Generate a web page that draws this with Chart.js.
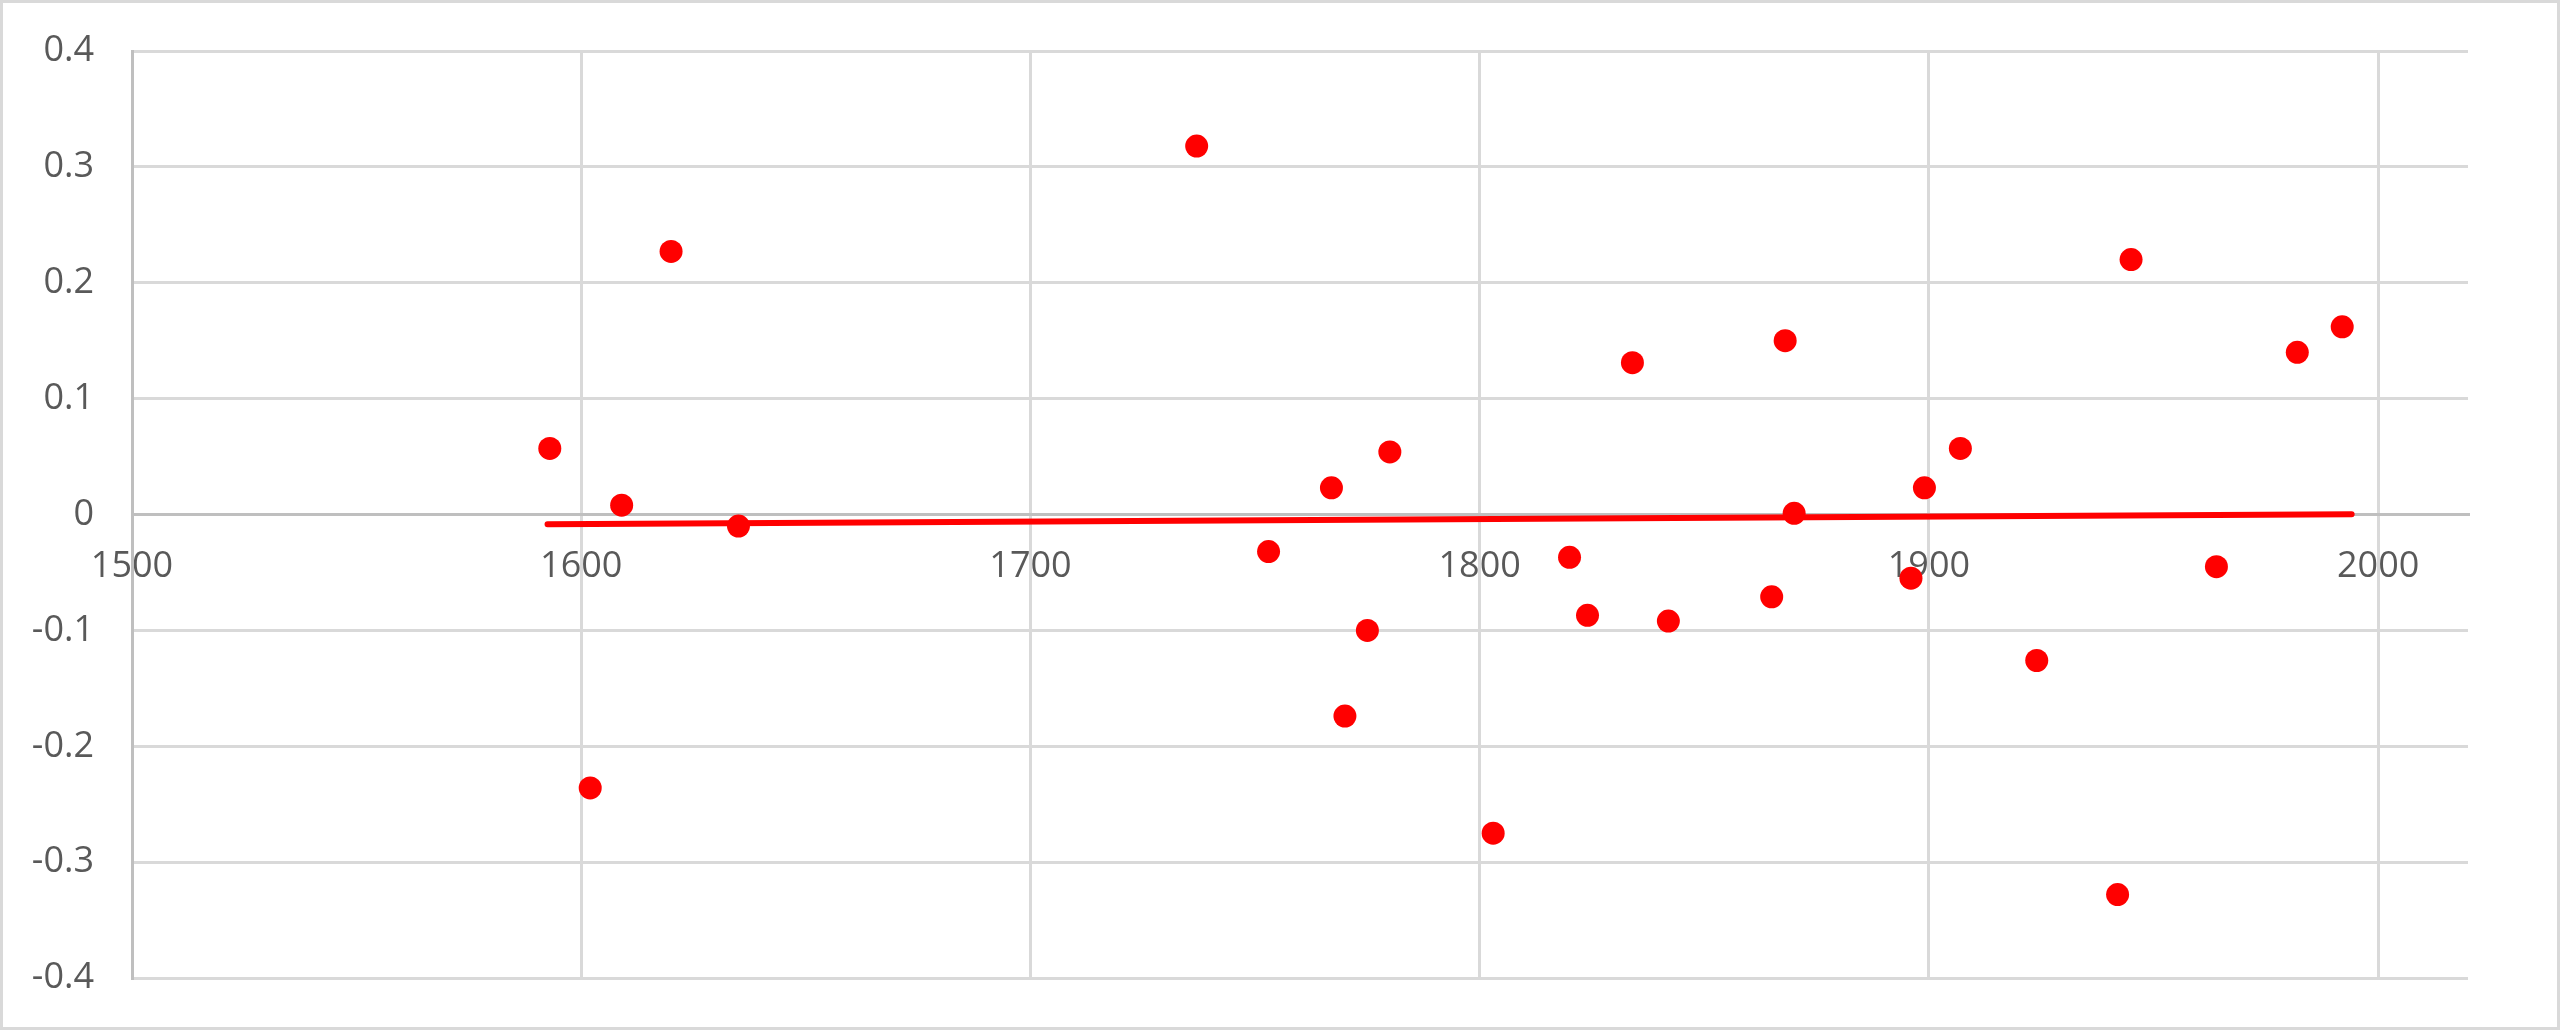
<!DOCTYPE html>
<html>
<head>
<meta charset="utf-8">
<script src="https://cdn.jsdelivr.net/npm/chart.js@4/dist/chart.umd.min.js"></script>
<style>
  html, body { margin: 0; padding: 0; background: #ffffff; }
  #wrap { width: 2560px; height: 1030px; }
</style>
</head>
<body>
<div id="wrap"><canvas id="c" width="2560" height="1030"></canvas></div>
<script>
// ---- data ----
const years = [1593, 1602, 1609, 1620, 1635, 1737, 1753, 1767, 1770, 1775, 1780, 1803, 1820, 1824, 1834, 1842, 1865, 1868, 1870, 1896, 1899, 1907, 1924, 1942, 1945, 1964, 1982, 1992];
const values = [0.057, -0.236, 0.008, 0.227, -0.010, 0.318, -0.032, 0.023, -0.174, -0.100, 0.054, -0.275, -0.037, -0.087, 0.131, -0.092, -0.071, 0.150, 0.001, -0.055, 0.023, 0.057, -0.126, -0.328, 0.220, -0.045, 0.140, 0.162];
// linear trendline endpoints as drawn
const trendYears = [1592.5, 1994.1];
const trendValues = [-0.0084, 0.0003];
// axes
const xMin = 1500, xMax = 2020, xStep = 100;
const yMin = -0.4, yMax = 0.4, yStep = 0.1;

const points = years.map((x, i) => ({ x: x, y: values[i] }));
const trend = trendYears.map((x, i) => ({ x: x, y: trendValues[i] }));

const frame = {
  id: 'frame',
  afterDraw(chart) {
    const ctx = chart.ctx;
    ctx.save();
    ctx.strokeStyle = '#d9d9d9';
    ctx.lineWidth = 3;
    ctx.strokeRect(1.5, 1.5, chart.width - 3, chart.height - 3);
    ctx.restore();
  }
};

new Chart(document.getElementById('c'), {
  type: 'scatter',
  data: {
    datasets: [
      {
        label: 'values',
        data: points,
        backgroundColor: '#ff0000',
        borderColor: '#ff0000',
        borderWidth: 0,
        pointRadius: 11.5,
        pointHoverRadius: 11.5
      },
      {
        label: 'trend',
        data: trend,
        showLine: true,
        borderColor: '#ff0000',
        backgroundColor: '#ff0000',
        borderWidth: 6,
        borderCapStyle: 'round',
        pointRadius: 0,
        pointHoverRadius: 0,
        fill: false
      }
    ]
  },
  options: {
    responsive: false,
    animation: false,
    devicePixelRatio: 1,
    events: [],
    layout: { padding: { left: 0, top: 51, right: 92, bottom: 52 } },
    plugins: { legend: { display: false }, tooltip: { enabled: false } },
    scales: {
      x: {
        type: 'linear',
        position: { y: 0 },
        min: xMin,
        max: xMax,
        afterFit: (s) => { s.paddingLeft = 0; s.paddingRight = 0; },
        ticks: {
          stepSize: xStep,
          includeBounds: false,
          padding: 31,
          color: '#595959',
          font: { family: 'Open Sans', size: 36 },
          maxRotation: 0,
          autoSkip: false,
          callback: (v) => String(v)
        },
        grid: { color: '#d9d9d9', lineWidth: 3, drawTicks: false },
        border: { display: true, color: '#bfbfbf', width: 3 }
      },
      y: {
        type: 'linear',
        position: 'left',
        min: yMin,
        max: yMax,
        afterFit: (s) => { s.width = 132; s.paddingTop = 0; s.paddingBottom = 0; },
        ticks: {
          stepSize: yStep,
          padding: 38,
          color: '#595959',
          font: { family: 'Open Sans', size: 36 }
        },
        grid: { color: '#d9d9d9', lineWidth: 3, drawTicks: false },
        border: { display: true, color: '#bfbfbf', width: 3 }
      }
    }
  },
  plugins: [frame]
});
</script>
</body>
</html>
